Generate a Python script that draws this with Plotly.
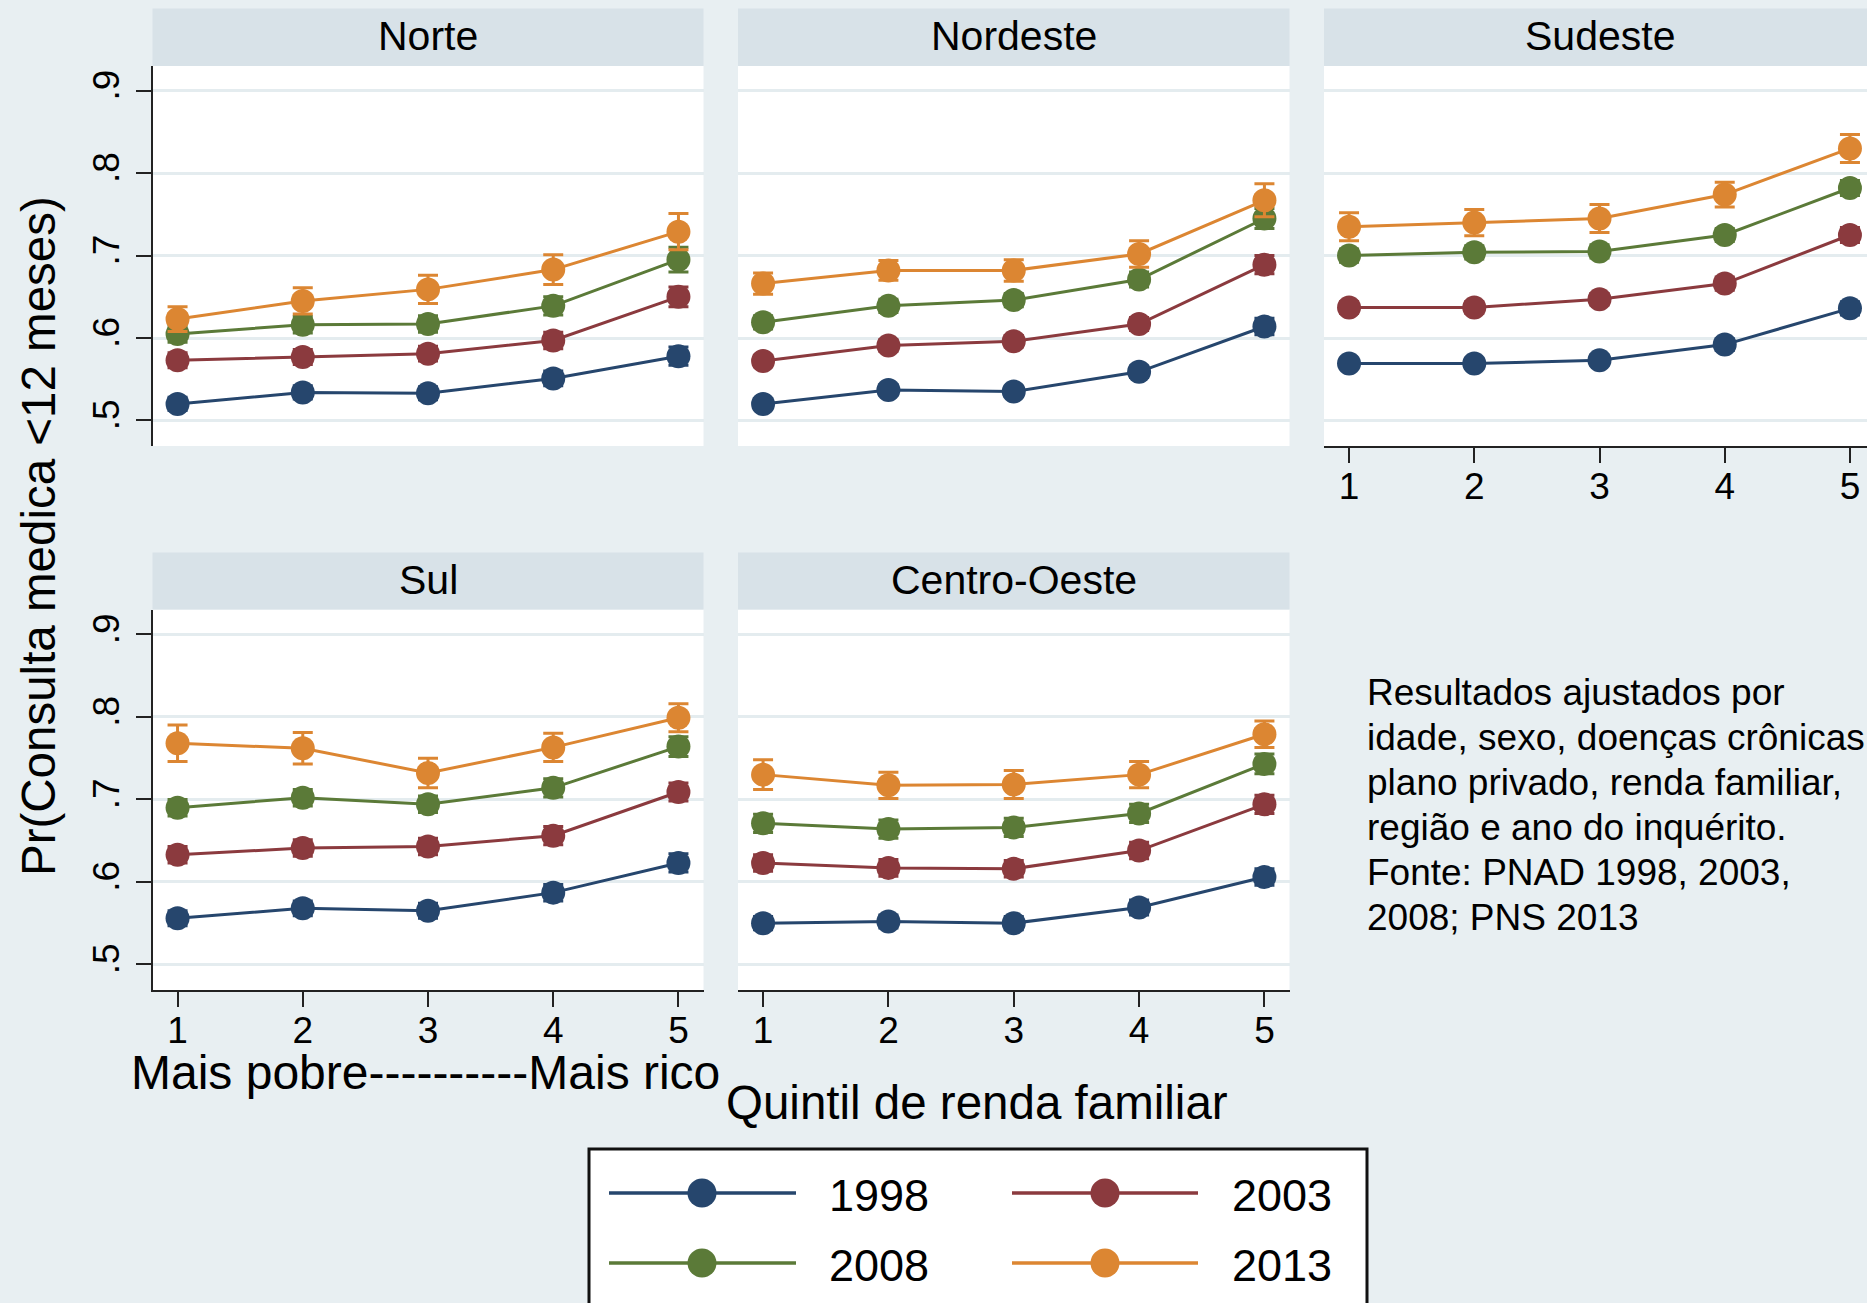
import plotly.graph_objects as go

# ---------------- data ----------------
quintiles = [1, 2, 3, 4, 5]
tick_labels = ["1", "2", "3", "4", "5"]
y_ticks = [0.5, 0.6, 0.7, 0.8, 0.9]
y_tick_labels = [".5", ".6", ".7", ".8", ".9"]
years = ["1998", "2003", "2008", "2013"]
regions = ["Norte", "Nordeste", "Sudeste", "Sul", "Centro-Oeste"]

# rows: 1998, 2003, 2008, 2013
norte = [
    [0.520, 0.534, 0.533, 0.551, 0.578],
    [0.573, 0.577, 0.581, 0.597, 0.650],
    [0.605, 0.616, 0.617, 0.639, 0.695],
    [0.623, 0.645, 0.659, 0.683, 0.729],
]
norte_ci = [
    [0.008, 0.008, 0.008, 0.009, 0.011],
    [0.009, 0.009, 0.009, 0.010, 0.012],
    [0.010, 0.010, 0.010, 0.011, 0.015],
    [0.015, 0.016, 0.017, 0.018, 0.022],
]
nordeste = [
    [0.520, 0.537, 0.535, 0.559, 0.614],
    [0.572, 0.591, 0.596, 0.617, 0.689],
    [0.619, 0.639, 0.646, 0.671, 0.745],
    [0.666, 0.682, 0.682, 0.702, 0.767],
]
nordeste_ci = [
    [0.006, 0.006, 0.006, 0.007, 0.010],
    [0.007, 0.007, 0.007, 0.008, 0.011],
    [0.008, 0.008, 0.008, 0.009, 0.012],
    [0.013, 0.012, 0.013, 0.016, 0.020],
]
sudeste = [
    [0.569, 0.569, 0.573, 0.592, 0.636],
    [0.637, 0.637, 0.647, 0.666, 0.725],
    [0.700, 0.704, 0.705, 0.725, 0.782],
    [0.735, 0.740, 0.745, 0.774, 0.830],
]
sudeste_ci = [
    [0.006, 0.006, 0.006, 0.007, 0.008],
    [0.007, 0.007, 0.007, 0.008, 0.009],
    [0.008, 0.008, 0.008, 0.008, 0.009],
    [0.017, 0.016, 0.017, 0.015, 0.017],
]
sul = [
    [0.556, 0.568, 0.565, 0.587, 0.623],
    [0.633, 0.641, 0.643, 0.656, 0.709],
    [0.690, 0.702, 0.694, 0.714, 0.764],
    [0.768, 0.762, 0.732, 0.763, 0.799],
]
sul_ci = [
    [0.009, 0.009, 0.009, 0.010, 0.011],
    [0.010, 0.010, 0.010, 0.011, 0.011],
    [0.010, 0.010, 0.010, 0.011, 0.012],
    [0.022, 0.019, 0.018, 0.017, 0.017],
]
centro_oeste = [
    [0.550, 0.552, 0.550, 0.569, 0.606],
    [0.623, 0.617, 0.616, 0.638, 0.694],
    [0.671, 0.664, 0.666, 0.683, 0.743],
    [0.730, 0.717, 0.718, 0.730, 0.779],
]
centro_oeste_ci = [
    [0.008, 0.008, 0.008, 0.009, 0.010],
    [0.010, 0.010, 0.010, 0.010, 0.011],
    [0.011, 0.011, 0.011, 0.011, 0.012],
    [0.018, 0.016, 0.017, 0.016, 0.016],
]
region_values = [norte, nordeste, sudeste, sul, centro_oeste]
region_ci = [norte_ci, nordeste_ci, sudeste_ci, sul_ci, centro_oeste_ci]

y_title = "Pr(Consulta medica <12 meses)"
x_note = "Mais pobre----------Mais rico"
x_title = "Quintil de renda familiar"
note_lines = [
    "Resultados ajustados por",
    "idade, sexo, doenças crônicas",
    "plano privado, renda familiar,",
    "região e ano do inquérito.",
    "Fonte: PNAD 1998, 2003,",
    "2008; PNS 2013",
]

# ---------------- style ----------------
W, H = 1867, 1303
FONT = "Liberation Sans, Arial, Helvetica, sans-serif"
colors = ["#26466D", "#8B3A3E", "#5B7A38", "#DC8632"]
BG = "#E8EFF2"
STRIP = "#D8E2E8"
GRID = "#E4ECEF"
AXC = "#222222"


def px(x):
    return x / W


def py(y):
    return 1 - y / H


# panel geometry in pixels: (x0, x1, row)
panels = [
    (152.5, 703.5, 0),
    (738.0, 1289.5, 0),
    (1324.0, 1875.0, 0),
    (152.5, 703.5, 1),
    (738.0, 1289.5, 1),
]
rows = [(8.5, 66.0, 446.0), (552.5, 609.6, 990.0)]  # strip top, plot top, plot bottom
show_x = [False, False, True, True, True]
show_y = [True, False, False, True, False]

fig = go.Figure()
layout = dict(
    width=W, height=H, autosize=False,
    margin=dict(l=0, r=0, t=0, b=0),
    paper_bgcolor=BG, plot_bgcolor="white",
    showlegend=False,
    font=dict(family=FONT, color="black"),
    shapes=[], annotations=[],
)

for i, (x0, x1, r) in enumerate(panels):
    st, pt, pb = rows[r]
    idx = "" if i == 0 else str(i + 1)
    xd1 = min(x1, W)
    xr1 = 0.8 + (xd1 - x0) / ((x1 - x0) / 4.4)
    layout["xaxis" + idx] = dict(
        domain=[px(x0), px(xd1)], anchor="y" + idx, range=[0.8, xr1],
        showgrid=False, zeroline=False,
        showline=show_x[i], linecolor=AXC, linewidth=2,
        ticks="outside" if show_x[i] else "", ticklen=15, tickwidth=2, tickcolor=AXC,
        tickvals=quintiles, ticktext=tick_labels,
        showticklabels=show_x[i], tickfont=dict(size=37, family=FONT, color="black"),
        ticklabelstandoff=-8,
        fixedrange=True,
    )
    layout["yaxis" + idx] = dict(
        domain=[py(pb), py(pt)], anchor="x" + idx, range=[0.469, 0.930],
        showgrid=True, gridcolor=GRID, gridwidth=3, zeroline=False,
        showline=show_y[i], linecolor=AXC, linewidth=2,
        ticks="outside" if show_y[i] else "", ticklen=15, tickwidth=2, tickcolor=AXC,
        tickvals=y_ticks, ticktext=y_tick_labels, tickangle=-90,
        showticklabels=show_y[i], tickfont=dict(size=37, family=FONT, color="black"),
        ticklabelstandoff=2,
        fixedrange=True,
    )
    # strip header
    layout["shapes"].append(dict(
        type="rect", xref="paper", yref="paper",
        x0=px(x0), x1=px(x1), y0=py(pt), y1=py(st),
        fillcolor=STRIP, line=dict(width=0), layer="below",
    ))
    layout["annotations"].append(dict(
        text=regions[i], xref="paper", yref="paper",
        x=px((x0 + x1) / 2), y=py((st + pt) / 2 - 1.5), xanchor="center", yanchor="middle",
        showarrow=False, font=dict(size=41, family=FONT, color="black"),
    ))
    for k, yr in enumerate(years):
        fig.add_trace(go.Scatter(
            x=quintiles, y=region_values[i][k],
            mode="lines+markers", name=yr,
            line=dict(color=colors[k], width=3),
            marker=dict(color=colors[k], size=24, line=dict(width=0)),
            error_y=dict(type="data", array=region_ci[i][k], visible=True,
                         color=colors[k], thickness=3, width=10),
            xaxis="x" + idx, yaxis="y" + idx, cliponaxis=False,
        ))

# ---------------- texts ----------------
layout["annotations"].append(dict(
    text=y_title, xref="paper", yref="paper", x=px(38), y=py(536),
    xanchor="center", yanchor="middle", textangle=-90, showarrow=False,
    font=dict(size=47.5, family=FONT, color="black"),
))
layout["annotations"].append(dict(
    text=x_note, xref="paper", yref="paper", x=px(425), y=py(1072),
    xanchor="center", yanchor="middle", showarrow=False,
    font=dict(size=48, family=FONT, color="black"),
))
layout["annotations"].append(dict(
    text=x_title, xref="paper", yref="paper", x=px(977), y=py(1102),
    xanchor="center", yanchor="middle", showarrow=False,
    font=dict(size=47.5, family=FONT, color="black"),
))
for j, line in enumerate(note_lines):
    layout["annotations"].append(dict(
        text=line, xref="paper", yref="paper", x=px(1365), y=py(692 + 45 * j),
        xanchor="left", yanchor="middle", showarrow=False,
        font=dict(size=37, family=FONT, color="black"),
    ))

# ---------------- legend (drawn on its own hidden axes, pixel units) ----------------
LX0, LX1, LY0 = 589.0, 1367.0, 1149.0
layout["xaxis6"] = dict(domain=[px(LX0), px(LX1)], range=[0, LX1 - LX0], anchor="y6",
                        visible=False, fixedrange=True)
layout["yaxis6"] = dict(domain=[0, py(LY0)], range=[H - LY0, 0], anchor="x6",
                        visible=False, fixedrange=True)
layout["shapes"].append(dict(
    type="rect", xref="paper", yref="paper",
    x0=px(LX0), x1=px(LX1), y0=py(H + 20), y1=py(LY0),
    fillcolor="rgba(0,0,0,0)", line=dict(color="#111111", width=3), layer="above",
))
leg_cols = [(20, 207, 113, 238), (423, 609, 516, 641)]  # line start, line end, marker, label x
leg_rows = [44, 114]
for k, yr in enumerate(years):
    c = k % 2
    rr = k // 2
    ls, le, mk, lx = leg_cols[c]
    yy = leg_rows[rr]
    fig.add_trace(go.Scatter(
        x=[ls, le], y=[yy, yy], mode="lines",
        line=dict(color=colors[k], width=3.5), xaxis="x6", yaxis="y6",
        hoverinfo="skip", cliponaxis=False,
    ))
    fig.add_trace(go.Scatter(
        x=[mk], y=[yy], mode="markers",
        marker=dict(color=colors[k], size=29, line=dict(width=0)),
        xaxis="x6", yaxis="y6", hoverinfo="skip", cliponaxis=False,
    ))
    layout["annotations"].append(dict(
        text=yr, xref="x6", yref="y6", x=lx, y=yy + 2,
        xanchor="left", yanchor="middle", showarrow=False,
        font=dict(size=45, family=FONT, color="black"),
    ))

fig.update_layout(**layout)
fig.write_html("out.html")
